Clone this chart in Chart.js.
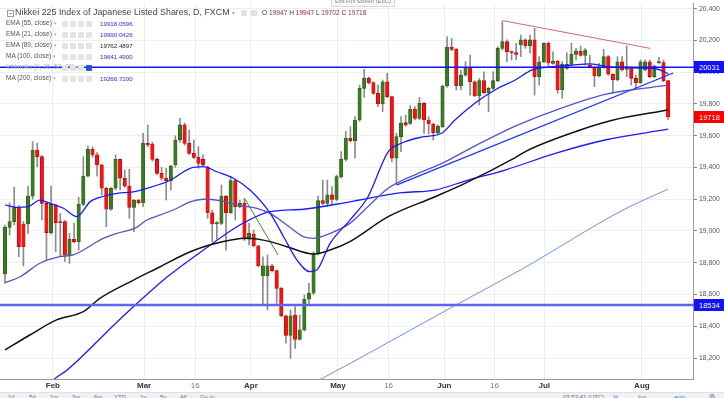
<!DOCTYPE html>
<html>
<head>
<meta charset="utf-8">
<script src="https://cdn.jsdelivr.net/npm/chart.js@4.4.1/dist/chart.umd.min.js"></script>
<style>
html,body{margin:0;padding:0;background:#fff;}
#wrap{position:relative;width:724px;height:398px;overflow:hidden;font-family:"Liberation Sans",Arial,sans-serif;}
#c{position:absolute;left:0;top:0;}
.t{position:absolute;white-space:nowrap;line-height:1;}
.ico{position:absolute;width:6px;height:6px;background:#e4e4e4;border-radius:1px;}
</style>
</head>
<body>
<div id="wrap">
<canvas id="c" width="724" height="398"></canvas>
<div id="overlay"></div>
</div>
<script>
// ---------- DATA ----------
const opens  = [18729,19023,19059,19149,19044,19044,19220,19510,19468,19174,18990,19164,19059,19059,18849,18948,18933,19168,19346,19514,19479,19416,19269,19137,19269,19451,19332,19283,19149,19195,19178,19552,19548,19451,19363,19332,19317,19416,19573,19668,19552,19489,19464,19451,19401,19115,19044,19048,19220,19115,19317,19153,19174,18948,18981,18906,18717,18717,18780,18750,18639,18465,18343,18471,18318,18377,18570,18608,18855,19191,19174,19227,19199,19342,19451,19583,19569,19699,19898,19961,19934,19867,19800,19940,19846,19458,19594,19682,19678,19766,19709,19804,19699,19674,19619,19657,19913,20157,20144,19913,19982,20031,19940,19850,19947,19871,19898,19947,20150,20192,20129,20123,20171,20203,20165,20203,19972,20066,20182,20056,20070,19888,20024,20049,20112,20133,20106,20045,20031,19976,20031,20098,19987,19951,20066,20018,20031,19961,19934,20014,20066,19972,20060,20060,19947];
const highs  = [19038,19178,19275,19160,19060,19283,19563,19552,19475,19180,19283,19170,19111,19065,18985,19048,19212,19468,19535,19530,19493,19420,19275,19275,19479,19455,19384,19388,19200,19200,19615,19668,19560,19460,19400,19395,19415,19600,19710,19680,19636,19573,19531,19479,19410,19132,19060,19290,19225,19342,19320,19195,19206,19048,19006,18910,18838,18849,18790,18755,18645,18470,18503,18524,18471,18597,18671,18870,19220,19321,19321,19279,19353,19500,19626,19657,19720,19919,20018,19970,19940,19919,19951,19993,19850,19615,19720,19730,19790,19783,19842,19810,19720,19680,19667,19919,20224,20213,20150,20014,20066,20108,19945,19961,20003,19905,20003,20161,20318,20203,20135,20182,20234,20210,20234,20276,20098,20186,20190,20129,20075,20066,20123,20182,20150,20165,20150,20108,20035,20056,20144,20105,19990,20098,20098,20165,20035,19982,20077,20077,20077,20045,20094,20077,19947];
const lows   = [18671,18975,19038,18838,18780,18985,19200,19405,19069,18817,18980,18870,18838,18807,18796,18925,18880,19160,19340,19465,19346,19227,19027,19130,19260,19258,19275,19080,18996,19170,19153,19530,19440,19355,19320,19195,19258,19400,19560,19540,19480,19455,19395,19405,19080,18933,18948,19040,18880,19110,19069,19145,18940,18912,18900,18775,18534,18503,18740,18545,18460,18293,18198,18261,18314,18370,18534,18600,18850,19165,19153,19164,19190,19332,19440,19560,19458,19690,19842,19925,19860,19783,19751,19840,19436,19290,19500,19660,19670,19700,19700,19615,19611,19573,19610,19650,19905,20135,19888,19888,19975,19856,19846,19793,19865,19751,19890,19940,20140,20066,20077,20077,20098,20150,20119,19856,19919,20060,20040,20050,19867,19835,20018,20045,20077,20100,20045,20025,19909,19970,20025,19980,19871,19945,20008,19972,19919,19898,19930,20008,19965,19965,20052,19940,19702];
const closes = [19023,19059,19149,18901,18901,19220,19510,19468,19174,18990,19168,19053,19053,18849,18948,18933,19168,19346,19514,19479,19416,19269,19137,19269,19451,19332,19283,19149,19195,19178,19552,19542,19451,19363,19332,19317,19409,19573,19668,19552,19489,19464,19426,19416,19115,19044,19053,19220,19115,19317,19153,19174,18948,18985,18906,18780,18780,18780,18750,18639,18465,18343,18465,18318,18377,18570,18608,18855,19191,19174,19227,19199,19342,19451,19584,19569,19699,19898,19961,19934,19867,19800,19940,19846,19458,19594,19678,19667,19766,19709,19804,19699,19674,19619,19661,19913,20157,20144,19913,19982,20031,19940,19850,19947,19871,19898,19947,20150,20192,20129,20123,20112,20203,20165,20203,19972,20066,20182,20060,20070,19888,20049,20049,20112,20133,20106,20140,20031,19976,20031,20098,19987,19951,20066,20014,20035,19961,19934,20066,20066,19972,20039,20062,19945,19718];

// moving averages: [bar index, value]
const ema21 = [[0,19164],[2.5,19149],[5,19153],[7.6,19195],[9.8,19174],[12.7,19143],[15.6,19090],[18.5,19185],[20.6,19212],[24.3,19237],[27.8,19247],[30.8,19269],[35.8,19318],[40.2,19395],[43.1,19405],[46,19373],[49.6,19332],[53.2,19258],[57.6,19111],[60.5,18964],[63.4,18817],[66.2,18744],[67.7,18754],[70.6,18922],[74.9,19069],[78.8,19214],[83.2,19498],[86.2,19554],[90.6,19592],[94.9,19617],[97.7,19699],[102.1,19806],[106.4,19888],[110.8,19951],[114.5,20014],[118.4,20033],[123.2,20045],[127.1,20052],[131.4,20033],[137.9,20026],[141.6,20020],[144,19990]];
const ema55 = [[0,18675],[3.3,18712],[7.6,18797],[11.9,18838],[14.8,18849],[17,18880],[20.6,18943],[24.3,18985],[28.6,19023],[30.8,19069],[33.7,19101],[36.9,19137],[40.2,19184],[43.1,19200],[46.7,19191],[50.3,19164],[54.7,19143],[57.6,19111],[61.2,19038],[64.8,18964],[67,18954],[70.6,18985],[74.9,19048],[78.8,19153],[83.2,19269],[89.7,19363],[94.9,19426],[102.7,19545],[110.8,19660],[119.5,19760],[130.3,19860],[139,19900],[144,19919]];
const ema89 = [[0,18251],[5.4,18345],[11.2,18440],[17,18492],[20.6,18576],[27.9,18691],[33.7,18775],[39.5,18860],[45.2,18918],[52.5,18954],[57.6,18933],[61.2,18901],[67,18855],[70.6,18880],[74.9,18933],[83.2,19090],[93.4,19216],[99.2,19290],[110.8,19462],[113.3,19505],[124.9,19636],[132.1,19699],[144,19762]];
const ma100 = [[9,18030],[11.3,18081],[13.5,18125],[24.8,18440],[35.2,18710],[43.1,18880],[51,19038],[57.6,19122],[64.8,19137],[74.9,19184],[86.2,19241],[93.4,19258],[100.6,19321],[108.6,19384],[119.5,19489],[130.3,19573],[144,19641]];
const ma200 = [[66,18030],[69,18074],[81.4,18269],[96.7,18515],[111.9,18754],[134.2,19132],[144,19264]];

// drawn trend lines: [bar index, value]
const redTrend   = [[108,20325],[140.1,20150]];
const greenTrend = [[52.1,19201],[59.3,18849]];
const blueTrend  = [[85.1,19290],[145.1,19995]];

// horizontal levels
const levelValues = [20031, 18534];

// axis ticks
const yTicks = [18200,18400,18600,18800,19000,19200,19400,19600,19800,20000,20200,20400];
const xTickPos    = [10.4, 30.2, 41.3, 53.4, 72.3, 83.3, 95.4, 106.3, 117.1, 138.3];
const xTickLabels = ['Feb','Mar','16','Apr','May','16','Jun','16','Jul','Aug'];

// legend texts
const legendNames  = ['EMA (55, close)','EMA (21, close)','EMA (89, close)','MA (100, close)','Ichimoku (9, 26, 52, 26)','MA (200, close)'];
const legendValues = ['19918.0596','19990.0426','19762.4897','19641.4900','','19266.7200'];
const legendColors = ['#2c2cd8','#2c2cd8','#222','#2c2cd8','','#2c2cd8'];
const ohlcHeader = [['O','19947'],['H','19947'],['L','19702'],['C','19718']];

// ---------- BUILD ----------
const N = opens.length;
const bodies=[], wicks=[], bodyFill=[], bodyLine=[];
for (let i=0;i<N;i++){
  const o=opens[i], c=closes[i];
  bodies.push({x:i, y:[Math.min(o,c), Math.max(o,c)]});
  wicks.push({x:i, y:[lows[i], highs[i]]});
  const up = c>=o;
  bodyFill.push(up ? '#3a7a20' : '#ff1010');
  bodyLine.push(up ? '#275a17' : '#b00000');
}
function lineDs(pts, color, width, smooth){
  return {type:'line', data: pts.map(p=>({x:p[0], y:p[1]})), borderColor:color, borderWidth:width,
    pointRadius:0, fill:false, cubicInterpolationMode: smooth ? 'monotone' : 'default', tension:0, order:1};
}

const levelPlugin = {
  id:'levels',
  afterDatasetsDraw(chart){
    const {ctx, chartArea:a, scales:{y}} = chart;
    ctx.save();
    const cols = ['#1212ff','#6262f2'], widths = [1.5, 2.5];
    levelValues.forEach((v,k)=>{
      const py = y.getPixelForValue(v);
      ctx.strokeStyle = cols[k]; ctx.lineWidth = widths[k];
      ctx.beginPath(); ctx.moveTo(a.left, py); ctx.lineTo(a.right+2, py); ctx.stroke();
    });
    ctx.restore();
  },
  afterDraw(chart){
    const {ctx, chartArea:a, scales:{y}} = chart;
    const tags = [{v:levelValues[0], bg:'#1010ff'}, {v:closes[N-1], bg:'#ff0000'}, {v:levelValues[1], bg:'#1414f0'}];
    ctx.save();
    tags.forEach(t=>{
      const py = y.getPixelForValue(t.v);
      ctx.fillStyle = t.bg;
      ctx.fillRect(a.right+1, Math.round(py)-6, 724-a.right-1, 12);
      ctx.fillStyle = '#fff';
      ctx.font = '7.5px "Liberation Sans", Arial, sans-serif';
      ctx.textBaseline = 'middle';
      ctx.fillText(String(Math.round(t.v)), a.right+6, Math.round(py)+0.5);
    });
    ctx.restore();
  }
};

new Chart(document.getElementById('c'), {
  type:'bar',
  data:{ datasets:[
    lineDs(ema21, '#1a1aff', 1.3, true),
    lineDs(ema55, '#5a52c8', 1.3, true),
    lineDs(ema89, '#111111', 1.5, true),
    lineDs(ma100, '#1a1aff', 1.3, true),
    lineDs(ma200, '#6f8fe0', 1, true),
    lineDs(redTrend, '#d06a6a', 1, false),
    lineDs(greenTrend, '#3f8a1e', 1, false),
    lineDs(blueTrend, '#1a30ff', 1.3, false),
    {type:'bar', data:bodies, backgroundColor:bodyFill, borderColor:bodyLine, borderWidth:0.6,
     borderSkipped:false, barThickness:3.4, minBarLength:1, grouped:false, order:2},
    {type:'bar', data:wicks, backgroundColor:'#8c8c8c', borderWidth:0, barThickness:1, grouped:false, order:3}
  ]},
  options:{
    responsive:false, animation:false, devicePixelRatio:1,
    layout:{padding:{top:3,left:0,right:0,bottom:0}},
    plugins:{legend:{display:false}, tooltip:{enabled:false}},
    scales:{
      x:{ type:'linear', min:-1.086, max:149.4, position:'bottom', offset:false,
        afterBuildTicks:s=>{ s.ticks = xTickPos.map(v=>({value:v})); },
        afterFit:s=>{ s.height = 19; s.paddingLeft = 0; s.paddingRight = 0; },
        ticks:{ autoSkip:false, maxRotation:0, padding:2,
          callback:(v,i)=>xTickLabels[i],
          font:ctx=>({family:'"Liberation Sans", Arial, sans-serif', size:8, weight: xTickLabels[ctx.index]==='16' ? 'normal':'bold'}),
          color:ctx=> xTickLabels[ctx.index]==='16' ? '#777' : '#333' },
        grid:{ color:'#eceef1', drawTicks:false, offset:false },
        border:{ color:'#9a9a9a' }
      },
      y:{ type:'linear', position:'right', min:18068, max:20435.7,
        afterBuildTicks:s=>{ s.ticks = yTicks.map(v=>({value:v})); },
        afterFit:s=>{ s.width = 31; s.paddingTop = 0; s.paddingBottom = 0; },
        ticks:{ padding:2, color:'#555', font:{family:'"Liberation Sans", Arial, sans-serif', size:6.8} },
        grid:{ color:'#eceef1', tickColor:'#888', tickLength:4 },
        border:{ color:'#9a9a9a' }
      }
    }
  },
  plugins:[levelPlugin]
});

// ---------- OVERLAY TEXT ----------
const ov = document.getElementById('overlay');
function add(html, css){ const d=document.createElement('div'); d.className='t'; d.style.cssText=css; d.innerHTML=html; ov.appendChild(d); return d; }
add('', 'left:7px;top:10px;width:5px;height:5px;border:1px solid #999;');
add('', 'left:9px;top:13px;width:3px;height:1px;background:#999;');
add('Nikkei 225 Index of Japanese Listed Shares, D, FXCM <span style="color:#aaa;font-size:6px">&#9662;</span>', 'left:15px;top:8px;font-size:8.9px;color:#444;');
add('', 'left:241px;top:10px;width:6px;height:6px;background:#e2e2e2;');
add('', 'left:251px;top:10px;width:6px;height:6px;background:#e2e2e2;');
add(ohlcHeader.map(p=>'<span style="color:#333">'+p[0]+'</span> <span style="color:#9b2a2a">'+p[1]+'</span>').join(' '), 'left:262px;top:10px;font-size:6.6px;');
add('Exit Full Screen (ESC)', 'left:331px;top:-3px;padding:1px 3px;font-size:5.6px;color:#888;background:#f7f7f7;border:1px solid #d8d8d8;');
legendNames.forEach((n,k)=>{
  const cy = 24 + k*11;
  const faded = legendValues[k]==='';
  add(n + ' <span style="color:#aaa;font-size:5px">&#9662;</span>', 'left:6px;top:'+(cy-4)+'px;font-size:6.5px;color:'+(faded?'#a8b0c0':'#555')+';');
  for (let q=0;q<4;q++){
    const d=document.createElement('div'); d.className='ico';
    d.style.left=(62+q*8)+'px'; d.style.top=(cy-3)+'px';
    if (faded && q===3) { d.style.background='#2950d0'; }
    ov.appendChild(d);
  }
  if (!faded) add(legendValues[k], 'left:100px;top:'+(cy-3.5)+'px;font-size:6.2px;color:'+legendColors[k]+';');
});
add('', 'left:0;top:392px;width:724px;height:6px;background:#eef1f5;border-top:1px solid #dde2e8;');
['1d','5d','1m','3m','6m','YTD','1y','5y','All','Go to...'].forEach((s,k)=>{
  add(s, 'left:'+[8,29,50,72,94,114,140,160,180,200][k]+'px;top:394px;font-size:6px;color:#6a7380;');
});
add('03:53:41 (UTC)', 'left:563px;top:394px;font-size:6px;color:#6a7380;');
add('%', 'left:613px;top:394px;font-size:6px;color:#4a78c8;');
add('log', 'left:638px;top:394px;font-size:6px;color:#6a7380;');
add('auto', 'left:674px;top:394px;font-size:6px;color:#4a78c8;');
add('&#9881;', 'left:709px;top:393px;font-size:7px;color:#6a7380;');
</script>
</body>
</html>
